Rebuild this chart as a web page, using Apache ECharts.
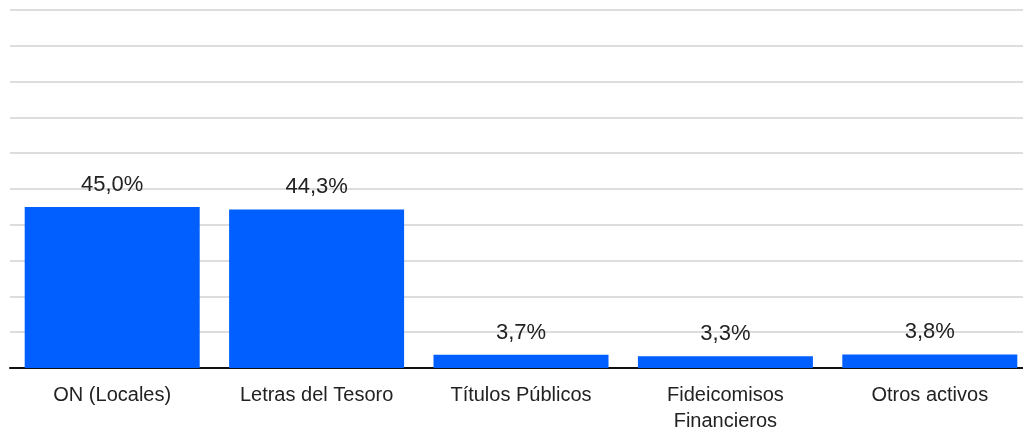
<!DOCTYPE html>
<html>
<head>
<meta charset="utf-8">
<script src="https://cdn.jsdelivr.net/npm/echarts@6/dist/echarts.min.js"></script>
<style>
  html, body { margin: 0; padding: 0; background: #fff; }
  #chart { width: 1023px; height: 430px; }
</style>
</head>
<body>
<div id="chart"></div>
<script>
var categories = ['ON (Locales)', 'Letras del Tesoro', 'Títulos Públicos', 'Fideicomisos\nFinancieros', 'Otros activos'];
var values = [45.0, 44.3, 3.7, 3.3, 3.8];

var myChart = echarts.init(document.getElementById('chart'));
var option = {
    animation: false,
    grid: { left: 10, top: 10, bottom: 62, right: -9, outerBoundsMode: 'none', containLabel: false },
    xAxis: {
        type: 'category',
        data: categories,
        axisLine: { lineStyle: { color: '#111', width: 2 } },
        axisTick: { show: false },
        axisLabel: {
            color: '#222',
            fontSize: 20,
            fontFamily: 'Liberation Sans',
            margin: 14,
            lineHeight: 26,
            interval: 0
        }
    },
    yAxis: {
        type: 'value',
        min: 0,
        max: 100,
        interval: 10,
        axisLabel: { show: false },
        axisLine: { show: false },
        axisTick: { show: false },
        splitLine: { lineStyle: { color: '#dddddd', width: 2 } }
    },
    series: [{
        type: 'bar',
        data: values,
        barWidth: 175,
        itemStyle: { color: '#005ffe' },
        label: {
            show: true,
            position: 'top',
            distance: 11,
            color: '#222',
            fontSize: 22,
            fontFamily: 'Liberation Sans',
            formatter: function (p) { return p.value.toFixed(1).replace('.', ',') + '%'; }
        }
    }]
};
myChart.setOption(option);
</script>
</body>
</html>
